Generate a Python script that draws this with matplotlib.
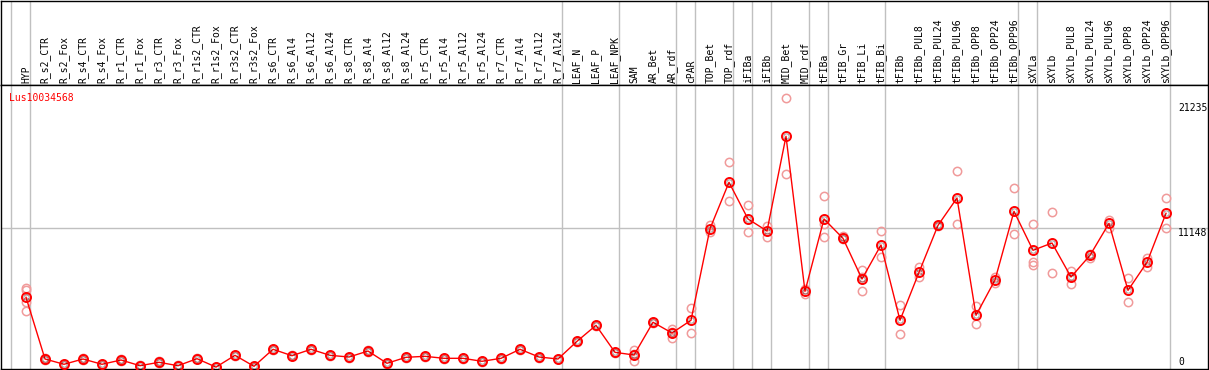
import matplotlib
matplotlib.use("Agg")
import matplotlib.pyplot as plt
import matplotlib.transforms as mtransforms

# column labels, mean values and replicate values
labels = ["HYP",
          "R_s2_CTR", "R_s2_Fox", "R_s4_CTR", "R_s4_Fox", "R_r1_CTR", "R_r1_Fox",
          "R_r3_CTR", "R_r3_Fox", "R_r1s2_CTR", "R_r1s2_Fox", "R_r3s2_CTR", "R_r3s2_Fox",
          "R_s6_CTR", "R_s6_Al4", "R_s6_Al12", "R_s6_Al24", "R_s8_CTR", "R_s8_Al4",
          "R_s8_Al12", "R_s8_Al24", "R_r5_CTR", "R_r5_Al4", "R_r5_Al12", "R_r5_Al24",
          "R_r7_CTR", "R_r7_Al4", "R_r7_Al12", "R_r7_Al24",
          "LEAF_N", "LEAF_P", "LEAF_NPK",
          "SAM", "AR_Bet", "AR_rdf",
          "cPAR",
          "TOP_Bet", "TOP_rdf",
          "iFIBa",
          "iFIBb",
          "MID_Bet", "MID_rdf",
          "tFIBa",
          "tFIB_Gr", "tFIB_Li", "tFIB_Bi",
          "tFIBb", "tFIBb_PUL8", "tFIBb_PUL24", "tFIBb_PUL96", "tFIBb_OPP8",
          "tFIBb_OPP24", "tFIBb_OPP96",
          "sXYLa",
          "sXYLb", "sXYLb_PUL8", "sXYLb_PUL24", "sXYLb_PUL96", "sXYLb_OPP8",
          "sXYLb_OPP24", "sXYLb_OPP96"]

group_sizes = [1, 28, 3, 3, 1, 2, 1, 1, 2, 1, 3, 7, 1, 7]

means = [5605,
         650, 225, 650, 225, 570, 112, 385, 112, 675, 0, 945, 65,
         1430, 915, 1430, 945, 810, 1290, 305, 785, 865, 705, 705, 465,
         705, 1430, 810, 650,
         2070, 3355, 1185,
         970, 3600, 2740,
         3760,
         11115, 14840,
         11895,
         10930,
         18535, 6085,
         11895,
         10340, 7075, 9805,
         3760, 7610, 11385, 13580, 4160, 6995, 12510,
         9380,
         9965, 7235, 8975, 11545, 6165, 8415, 12350]

replicates = [[6377, 6192, 5252, 4481],
              [760, 600], [250, 200], [720, 580], [260, 200], [650, 490], [150, 90],
              [450, 320], [150, 80], [720, 640], [30, 0], [1000, 890], [90, 40],
              [1480, 1380], [960, 870], [1480, 1380], [990, 900], [850, 770], [1340, 1240],
              [340, 270], [820, 750], [900, 830], [740, 670], [740, 670], [500, 430],
              [740, 670], [1480, 1380], [850, 770], [690, 610],
              [2120, 2020], [3400, 3310], [1230, 1140],
              [1375, 1050, 490], [3650, 3550], [3060, 2800, 2360],
              [4745, 2740],
              [11410, 10875], [16450, 13315],
              [12995, 10825],
              [11355, 10425],
              [21585, 15485], [6250, 5900],
              [13715, 11515, 10425],
              [10500, 10260], [7775, 7260, 6135], [10905, 8840],
              [4960, 2635], [8015, 7260], [11450, 11300], [15725, 11465], [4905, 3435],
              [7260, 6730], [14385, 10665],
              [11465, 8465, 8200],
              [12430, 7530], [7745, 6650], [9080, 8785], [11815, 11195], [7130, 5205],
              [8760, 8065], [13555, 11145]]

gene = "Lus10034568"
tick_values = [21235, 11148, 0]

W, H = 1209, 370
fig = plt.figure(figsize=(W / 100, H / 100), dpi=100)
left, right = 1 / W, 1208 / W
head = fig.add_axes([left, (H - 85) / H, right - left, 84 / H])
ax = fig.add_axes([left, 1 / H, right - left, 284 / H])

xmin, xmax = (1 - 26) / 19, (1208 - 26) / 19
for a in (head, ax):
    a.set_xlim(xmin, xmax)
    a.set_xticks([])
    a.set_yticks([])
    for s in a.spines.values():
        s.set_color("black")
        s.set_linewidth(1.0)
head.set_ylim(0, 1)
ax.set_ylim(-153, 22655)

mono = "DejaVu Sans Mono"
grey = "#c0c0c0"

# group separators
b = -1
bounds = [b]
for g in group_sizes:
    b += g
    bounds.append(b)
for bx in bounds:
    for a in (head, ax):
        a.axvline(bx + 0.21, color=grey, lw=1.0, zorder=0)

ax.axhline(11148, color=grey, lw=1.0, zorder=0)

# column labels
for i, lab in enumerate(labels):
    head.text(i, 0.025, lab, rotation=90, ha="center", va="bottom",
              fontsize=7, family=mono, color="black")

# replicates
for i, reps in enumerate(replicates):
    ax.plot([i] * len(reps), reps, "o", ms=6, mfc="none", mec="#f09a9a",
            mew=1.1, zorder=2)

x = list(range(len(means)))
ax.plot(x, means, "-", color="red", lw=1.0, zorder=3)
ax.plot(x, means, "o", ms=6.5, mfc="none", mec="red", mew=1.4, zorder=4)
ax.plot(x, means, "o", ms=3.8, mfc="none", mec="black", mew=0.5, alpha=0.5, zorder=5)

ax.text(8 / 1207, 0.972, gene, transform=ax.transAxes,
        ha="left", va="top", fontsize=7, family=mono, color="red")

trans = mtransforms.blended_transform_factory(ax.transAxes, ax.transData)
for v in tick_values:
    ax.text(1177 / 1207, v, str(v), transform=trans, ha="left",
            va="top" if v > 0 else "bottom", fontsize=7, family=mono, color="black")

fig.savefig("out.png", dpi=100)
